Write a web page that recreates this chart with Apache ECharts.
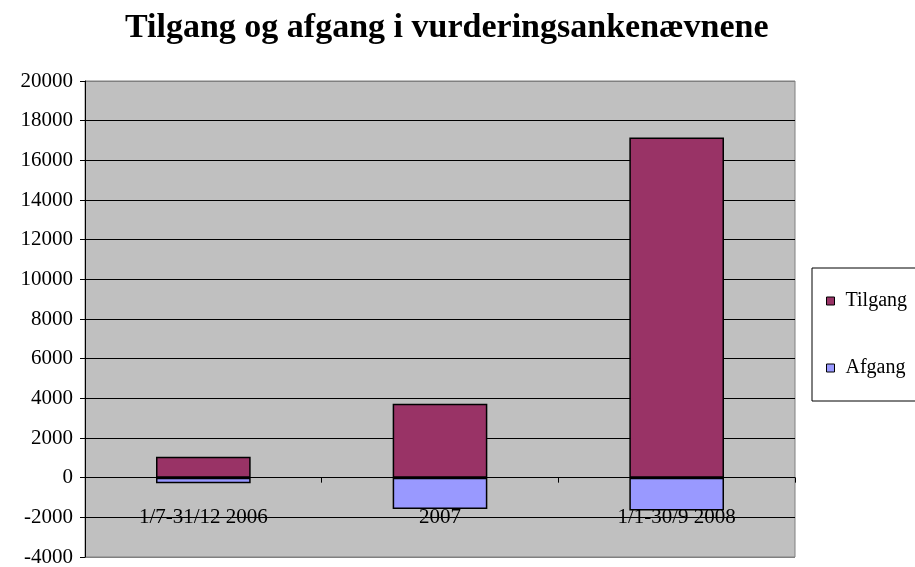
<!DOCTYPE html>
<html>
<head>
<meta charset="utf-8">
<script src="https://cdn.jsdelivr.net/npm/echarts@6/dist/echarts.min.js"></script>
<style>
html, body { margin: 0; padding: 0; background: #fff; }
#chart { width: 915px; height: 567px; }
</style>
</head>
<body>
<div id="chart"></div>
<script>
// data
var categories = ['1/7-31/12 2006', '2007', '1/1-30/9 2008'];
var tilgang = [1050, 3730, 17150];
var afgang = [-280, -1580, -1660];

var chart = echarts.init(document.getElementById('chart'));
var serif = '"Liberation Serif", "DejaVu Serif", serif';

// gridlines -4000..20000: first and last are the plot border (gray)
var gridColors = [];
for (var i = 0; i < 13; i++) gridColors.push(i === 0 || i === 12 ? '#808080' : '#000');

var option = {
    backgroundColor: '#fff',
    title: {
        text: 'Tilgang og afgang i vurderingsankenævnene',
        left: 120,
        top: 6,
        textStyle: { fontFamily: serif, fontSize: 34, fontWeight: 'bold', color: '#000' }
    },
    legend: {
        orient: 'vertical',
        left: 812,
        top: 268,
        padding: [23, 40, 23, 14],
        itemGap: 47,
        itemWidth: 8,
        itemHeight: 8,
        borderColor: '#000',
        borderWidth: 1,
        icon: 'rect',
        data: [
            { name: 'Tilgang', itemStyle: { borderColor: '#000', borderWidth: 1 } },
            { name: 'Afgang', itemStyle: { borderColor: '#000', borderWidth: 1 } }
        ],
        textStyle: { fontFamily: serif, fontSize: 20, lineHeight: 20, color: '#000', padding: [0, 0, 0, 6] }
    },
    grid: {
        left: 85, right: 120, top: 81, bottom: 10,
        containLabel: false,
        outerBoundsMode: 'none',
        show: true,
        backgroundColor: '#C0C0C0',
        borderColor: '#808080',
        borderWidth: 1
    },
    xAxis: [
        {
            type: 'category',
            data: categories,
            axisLine: { onZero: true, lineStyle: { color: '#000', width: 1 } },
            axisTick: { show: true, length: 5, lineStyle: { color: '#000' } },
            axisLabel: { show: false },
            splitLine: { show: false }
        },
        {
            // label row, sits just under the zero line as in the original
            type: 'category',
            data: categories,
            position: 'bottom',
            offset: -58,
            axisLine: { show: false, onZero: false },
            axisTick: { show: false },
            axisLabel: { margin: 8, fontFamily: serif, fontSize: 21, color: '#000' },
            splitLine: { show: false }
        }
    ],
    yAxis: {
        type: 'value',
        min: -4000,
        max: 20000,
        interval: 2000,
        axisLine: { show: true, lineStyle: { color: '#000', width: 1 } },
        axisTick: { show: true, length: 5, lineStyle: { color: '#000' } },
        axisLabel: {
            margin: 12, fontFamily: serif, fontSize: 21, color: '#000',
            formatter: function (v) { return String(v); }
        },
        splitLine: { show: true, lineStyle: { color: gridColors, width: 1 } }
    },
    series: [
        {
            name: 'Tilgang',
            type: 'bar',
            stack: 'total',
            barWidth: '40%',
            data: tilgang,
            itemStyle: { color: '#993366', borderColor: '#000', borderWidth: 1.5 }
        },
        {
            name: 'Afgang',
            type: 'bar',
            stack: 'total',
            barWidth: '40%',
            data: afgang,
            itemStyle: { color: '#9999FF', borderColor: '#000', borderWidth: 1.5 }
        }
    ],
    animation: false
};

chart.setOption(option);
</script>
</body>
</html>
